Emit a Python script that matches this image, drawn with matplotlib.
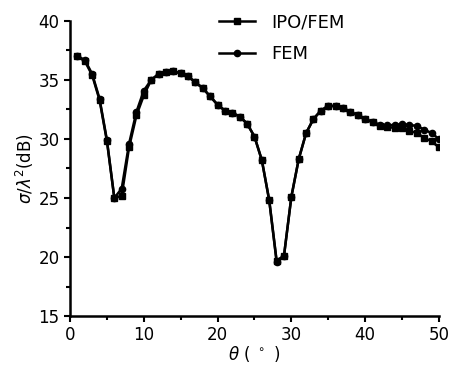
import matplotlib
matplotlib.use("Agg")
import matplotlib.pyplot as plt
from matplotlib.ticker import MultipleLocator

theta = list(range(1, 51))
ipo_fem = [37.0, 36.6, 35.4, 33.3, 29.8, 25.0, 25.2, 29.3, 32.0, 33.7,
           35.0, 35.5, 35.7, 35.75, 35.55, 35.3, 34.8, 34.3, 33.6, 32.9,
           32.4, 32.2, 31.9, 31.3, 30.2, 28.2, 24.8, 19.7, 20.1, 25.1,
           28.3, 30.5, 31.7, 32.4, 32.8, 32.8, 32.6, 32.3, 32.0, 31.7,
           31.4, 31.1, 31.0, 30.95, 30.9, 30.7, 30.5, 30.1, 29.8, 29.3]
fem = [37.0, 36.7, 35.5, 33.4, 29.9, 25.0, 25.8, 29.6, 32.3, 34.1,
       35.0, 35.5, 35.7, 35.75, 35.55, 35.3, 34.8, 34.3, 33.6, 32.9,
       32.4, 32.2, 31.9, 31.3, 30.2, 28.2, 24.8, 19.6, 20.1, 25.1,
       28.3, 30.5, 31.7, 32.4, 32.8, 32.8, 32.6, 32.3, 32.0, 31.7,
       31.45, 31.2, 31.15, 31.2, 31.25, 31.2, 31.1, 30.8, 30.5, 30.0]

fig = plt.figure(figsize=(4.52, 3.74), dpi=100)
ax = fig.add_axes([0.155, 0.155, 0.816, 0.789])

ax.plot(theta, ipo_fem, color='black', lw=1.8, marker='s', ms=4.5, label='IPO/FEM')
ax.plot(theta, fem, color='black', lw=1.8, marker='o', ms=4.5, label='FEM')

ax.set_xlim(0, 50)
ax.set_ylim(15, 40)
ax.xaxis.set_major_locator(MultipleLocator(10))
ax.xaxis.set_minor_locator(MultipleLocator(5))
ax.yaxis.set_major_locator(MultipleLocator(5))
ax.yaxis.set_minor_locator(MultipleLocator(2.5))
ax.tick_params(which='both', direction='out', width=1.5, labelsize=12)
ax.tick_params(which='major', length=4)
ax.tick_params(which='minor', length=3)
for s in ['top', 'right']:
    ax.spines[s].set_visible(False)
for s in ['left', 'bottom']:
    ax.spines[s].set_linewidth(1.8)

ax.set_xlabel(r'$\theta$ ( $^\circ$ )', fontsize=12, labelpad=0)
ax.set_ylabel(r'$\sigma/\lambda^2$(dB)', fontsize=12, labelpad=2)

leg = ax.legend(loc='upper left', bbox_to_anchor=(0.385, 1.05), frameon=False,
                fontsize=13, handlelength=2.0, handletextpad=0.9,
                labelspacing=0.75, borderaxespad=0)

fig.savefig('out.png', dpi=100)
